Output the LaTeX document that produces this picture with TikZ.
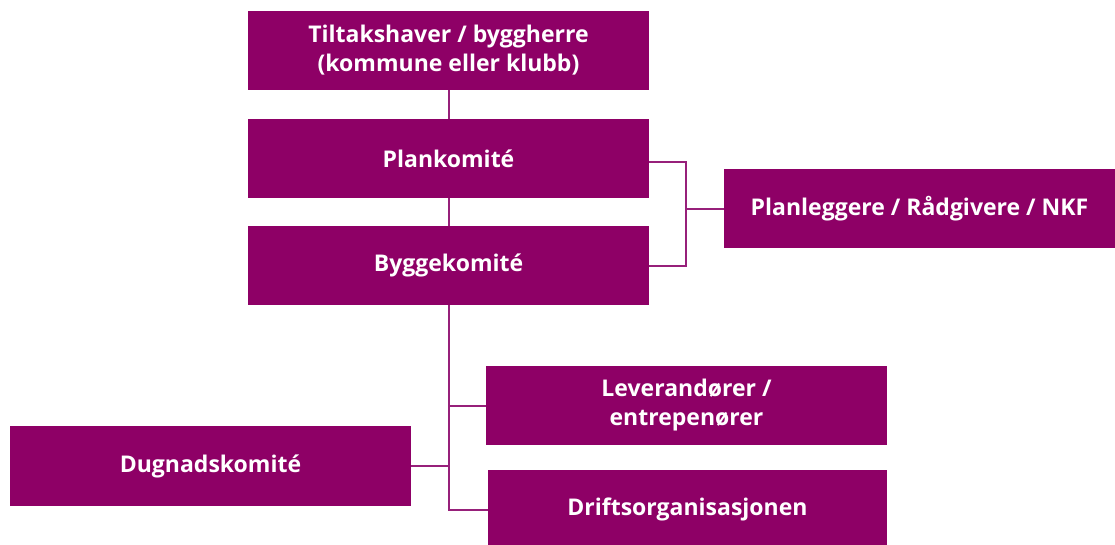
\documentclass[tikz,border=0pt]{standalone}
\usepackage{fontspec}
\setmainfont{Open Sans}
\definecolor{plum}{HTML}{8E0066}
\definecolor{plumline}{HTML}{97207A}
\begin{document}
\begin{tikzpicture}[x=1pt,y=-1pt,
  box/.style={fill=plum, text=white, inner sep=0pt, align=center,
    font=\fontsize{23}{29}\selectfont\bfseries},
  conn/.style={draw=plumline, line width=2pt}]
\useasboundingbox (0,0) rectangle (1115,544);
\node[box, minimum width=401pt, minimum height=79pt] (top) at (448.5,50.5) {Tiltakshaver / byggherre\\(kommune eller klubb)};
\node[box, minimum width=401pt, minimum height=79pt] (plan) at (448.5,158.5) {Plankomité};
\node[box, minimum width=401pt, minimum height=79pt] (bygg) at (448.5,265.5) {Byggekomité};
\node[box, minimum width=391pt, minimum height=79pt] (planl) at (919.5,208.5) {Planleggere / Rådgivere / NKF};
\node[box, minimum width=401pt, minimum height=79pt] (lev) at (686.5,405.5) {Leverandører /\\entrepenører};
\node[box, minimum width=401pt, minimum height=80pt] (dug) at (210.5,466) {Dugnadskomité};
\node[box, minimum width=399pt, minimum height=79pt] (drift) at (687.5,509.5) {Driftsorganisasjonen};
\coordinate (jr) at (686,208.5);
\draw[conn] (top.south) -- (plan.north);
\draw[conn] (plan.south) -- (bygg.north);
\draw[conn] ([yshift=-3.5pt]plan.east) -| (jr) |- (bygg.east);
\draw[conn] (jr) -- (planl.west);
\draw[conn] (bygg.south) |- (drift.west);
\draw[conn] (lev.west) -- (lev.west -| bygg.south);
\draw[conn] (dug.east) -- (dug.east -| bygg.south);
\end{tikzpicture}
\end{document}
